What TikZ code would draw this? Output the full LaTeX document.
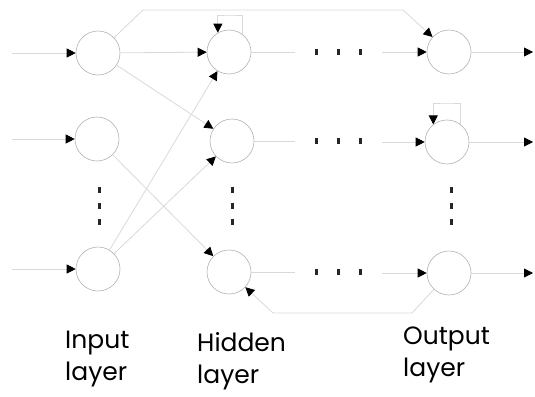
\documentclass[tikz,border=0pt]{standalone}
\usepackage{fontspec}
\setmainfont{Poppins}
\usetikzlibrary{arrows.meta}

\begin{document}
\begin{tikzpicture}[x=1pt,y=-1pt]
\tikzstyle{neuron}=[circle,draw=black!30,line width=0.6pt,minimum size=44pt,inner sep=0pt]
\tikzstyle{link}=[draw=black!15,line width=0.8pt]
\tikzstyle{arr}=[link,-{Triangle[length=9pt,width=9pt,color=black]}]
\tikzstyle{dot}=[rectangle,fill=black!85,minimum width=3pt,minimum height=6pt,inner sep=0pt]
\tikzstyle{layername}=[anchor=north west,align=left,inner sep=0pt,font=\fontsize{25}{32}\selectfont]
\useasboundingbox (0,0) rectangle (535,396);
% neurons
\node[neuron] (i1) at (98,53) {};
\node[neuron] (i2) at (97,139) {};
\node[neuron] (i3) at (98,269) {};
\node[neuron] (h1) at (229,52) {};
\node[neuron] (h2) at (232,141) {};
\node[neuron] (h3) at (229,272) {};
\node[neuron] (o1) at (449,52) {};
\node[neuron] (o2) at (447,142) {};
\node[neuron] (o3) at (449,273) {};
% free ends
\coordinate (in1) at (12,53);
\coordinate (in2) at (12,139);
\coordinate (in3) at (12,269);
\coordinate (out1) at (533,52);
\coordinate (out2) at (533,142);
\coordinate (out3) at (533,273);
\coordinate (hd1) at (295,52);
\coordinate (hd2) at (295,141);
\coordinate (hd3) at (295,272);
\coordinate (od1) at (382,52);
\coordinate (od2) at (382,142);
\coordinate (od3) at (382,273);
\coordinate (top1) at (143,10);
\coordinate (top2) at (403,10);
\coordinate (back1) at (412,313);
\coordinate (back2) at (273,313);
\coordinate (loop1) at (230,15);
\coordinate (loop2) at (447,103);
% dots
\foreach \x in {316,338,360}{
  \node[dot] at (\x,52) {};
  \node[dot] at (\x,141) {};
  \node[dot] at (\x,272) {};
}
\foreach \y in {190,206,222}{
  \node[dot] at (99,\y) {};
  \node[dot] at (232,\y) {};
  \node[dot] at (451,\y) {};
}
% connections
\draw[arr] (in1) -- (i1);
\draw[arr] (in2) -- (i2);
\draw[arr] (in3) -- (i3);
\draw[arr] (i1) -- (h1);
\draw[arr] (i1) -- (h2);
\draw[arr] (i2) -- (h3);
\draw[arr] (i3) -- (h1);
\draw[arr] (i3) -- (h2);
\draw[arr] (i1) -- (top1) -- (top2) -- (o1);
\draw[arr] (h1.54) |- (loop1) -| (h1.120);
\draw[arr] (o2.54) |- (loop2) -| (o2.128);
\draw[arr] (o3) -- (back1) -- (back2) -- (h3);
\draw[link] (h1) -- (hd1);
\draw[link] (h2) -- (hd2);
\draw[link] (h3) -- (hd3);
\draw[arr] (od1) -- (o1);
\draw[arr] (od2) -- (o2);
\draw[arr] (od3) -- (o3);
\draw[arr] (o1) -- (out1);
\draw[arr] (o2) -- (out2);
\draw[arr] (o3) -- (out3);
% labels
\node[layername] (lin) at (65,331) {Input\\layer};
\node[layername] (lhid) at (197,332) {Hidden\\layer};
\node[layername] (lout) at (403,327) {Output\\layer};
\end{tikzpicture}
\end{document}
